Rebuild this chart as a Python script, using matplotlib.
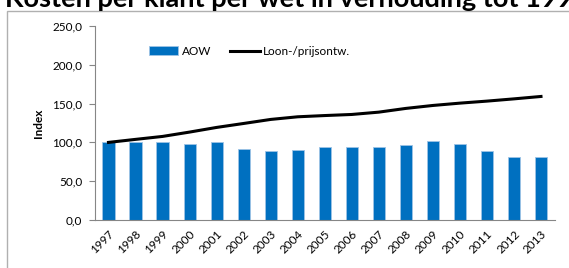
import matplotlib
matplotlib.use("Agg")
import matplotlib.pyplot as plt
from matplotlib.patches import Rectangle
import numpy as np

years = [str(y) for y in range(1997, 2014)]
aow = [100.0, 100.0, 100.0, 97.5, 100.0, 91.5, 89.3, 90.2, 93.7, 94.5,
       94.0, 97.0, 101.8, 98.0, 88.5, 81.5, 81.2]
loon_prijs = [100.0, 103.9, 107.7, 113.3, 119.3, 124.4, 129.6, 133.0, 134.6, 136.0,
              139.0, 143.8, 147.6, 150.6, 153.2, 156.1, 159.2]
yticks = [0, 50, 100, 150, 200, 250]

plt.rcParams["font.family"] = ["Lato", "DejaVu Sans"]

fig = plt.figure(figsize=(5.69, 2.68), dpi=100)
W, H = 569, 268

# chart frame (extends past the right/bottom edge of the crop)
fig.patches.append(Rectangle((7 / W, -0.1), 1.2, 1 - 11 / H + 0.1,
                             transform=fig.transFigure, fill=False,
                             edgecolor="#b0b0b0", lw=1.0))
# title, cut off at the top of the picture
fig.text(5 / W, 1 - 7 / H, "Kosten per klant per wet in verhouding tot 1997",
         fontsize=19.5, fontweight="bold", va="baseline", ha="left")

ax = fig.add_axes([95 / W, 1 - 220 / H, (554.5 - 95) / W, (220 - 26) / H])
x = np.arange(len(years))
bars = ax.bar(x, aow, width=0.45, color="#0070C0", edgecolor="#9DC3E6", lw=0.6, label="AOW")
line, = ax.plot(x, loon_prijs, color="black", lw=2.2, label="Loon-/prijsontw.")

ax.set_xlim(-0.5, len(years) - 0.5)
ax.set_ylim(0, 250)
ax.set_yticks(yticks)
ax.set_yticklabels([f"{v:.1f}".replace(".", ",") for v in yticks], fontsize=8.5)
ax.set_xticks(x)
ax.set_xticklabels(years, rotation=45, ha="right", rotation_mode="anchor", fontsize=8.5)
ax.tick_params(axis="x", length=0, pad=6)
ax.tick_params(axis="y", length=4, color="#868686", pad=5)
for s in ["top", "right"]:
    ax.spines[s].set_visible(False)
for s in ["left", "bottom"]:
    ax.spines[s].set_color("#868686")
ax.set_ylabel("Index", fontsize=8.5, fontweight="bold", labelpad=6)

ax.legend([bars, line], ["AOW", "Loon-/prijsontw."], loc="upper left",
          bbox_to_anchor=(49 / (554.5 - 95), 1 - 15 / 194), ncol=2,
          frameon=False, fontsize=8.5, handlelength=2.5, handleheight=0.7,
          handletextpad=0.3, columnspacing=1.6, borderaxespad=0)

fig.savefig("out.png", dpi=100)
